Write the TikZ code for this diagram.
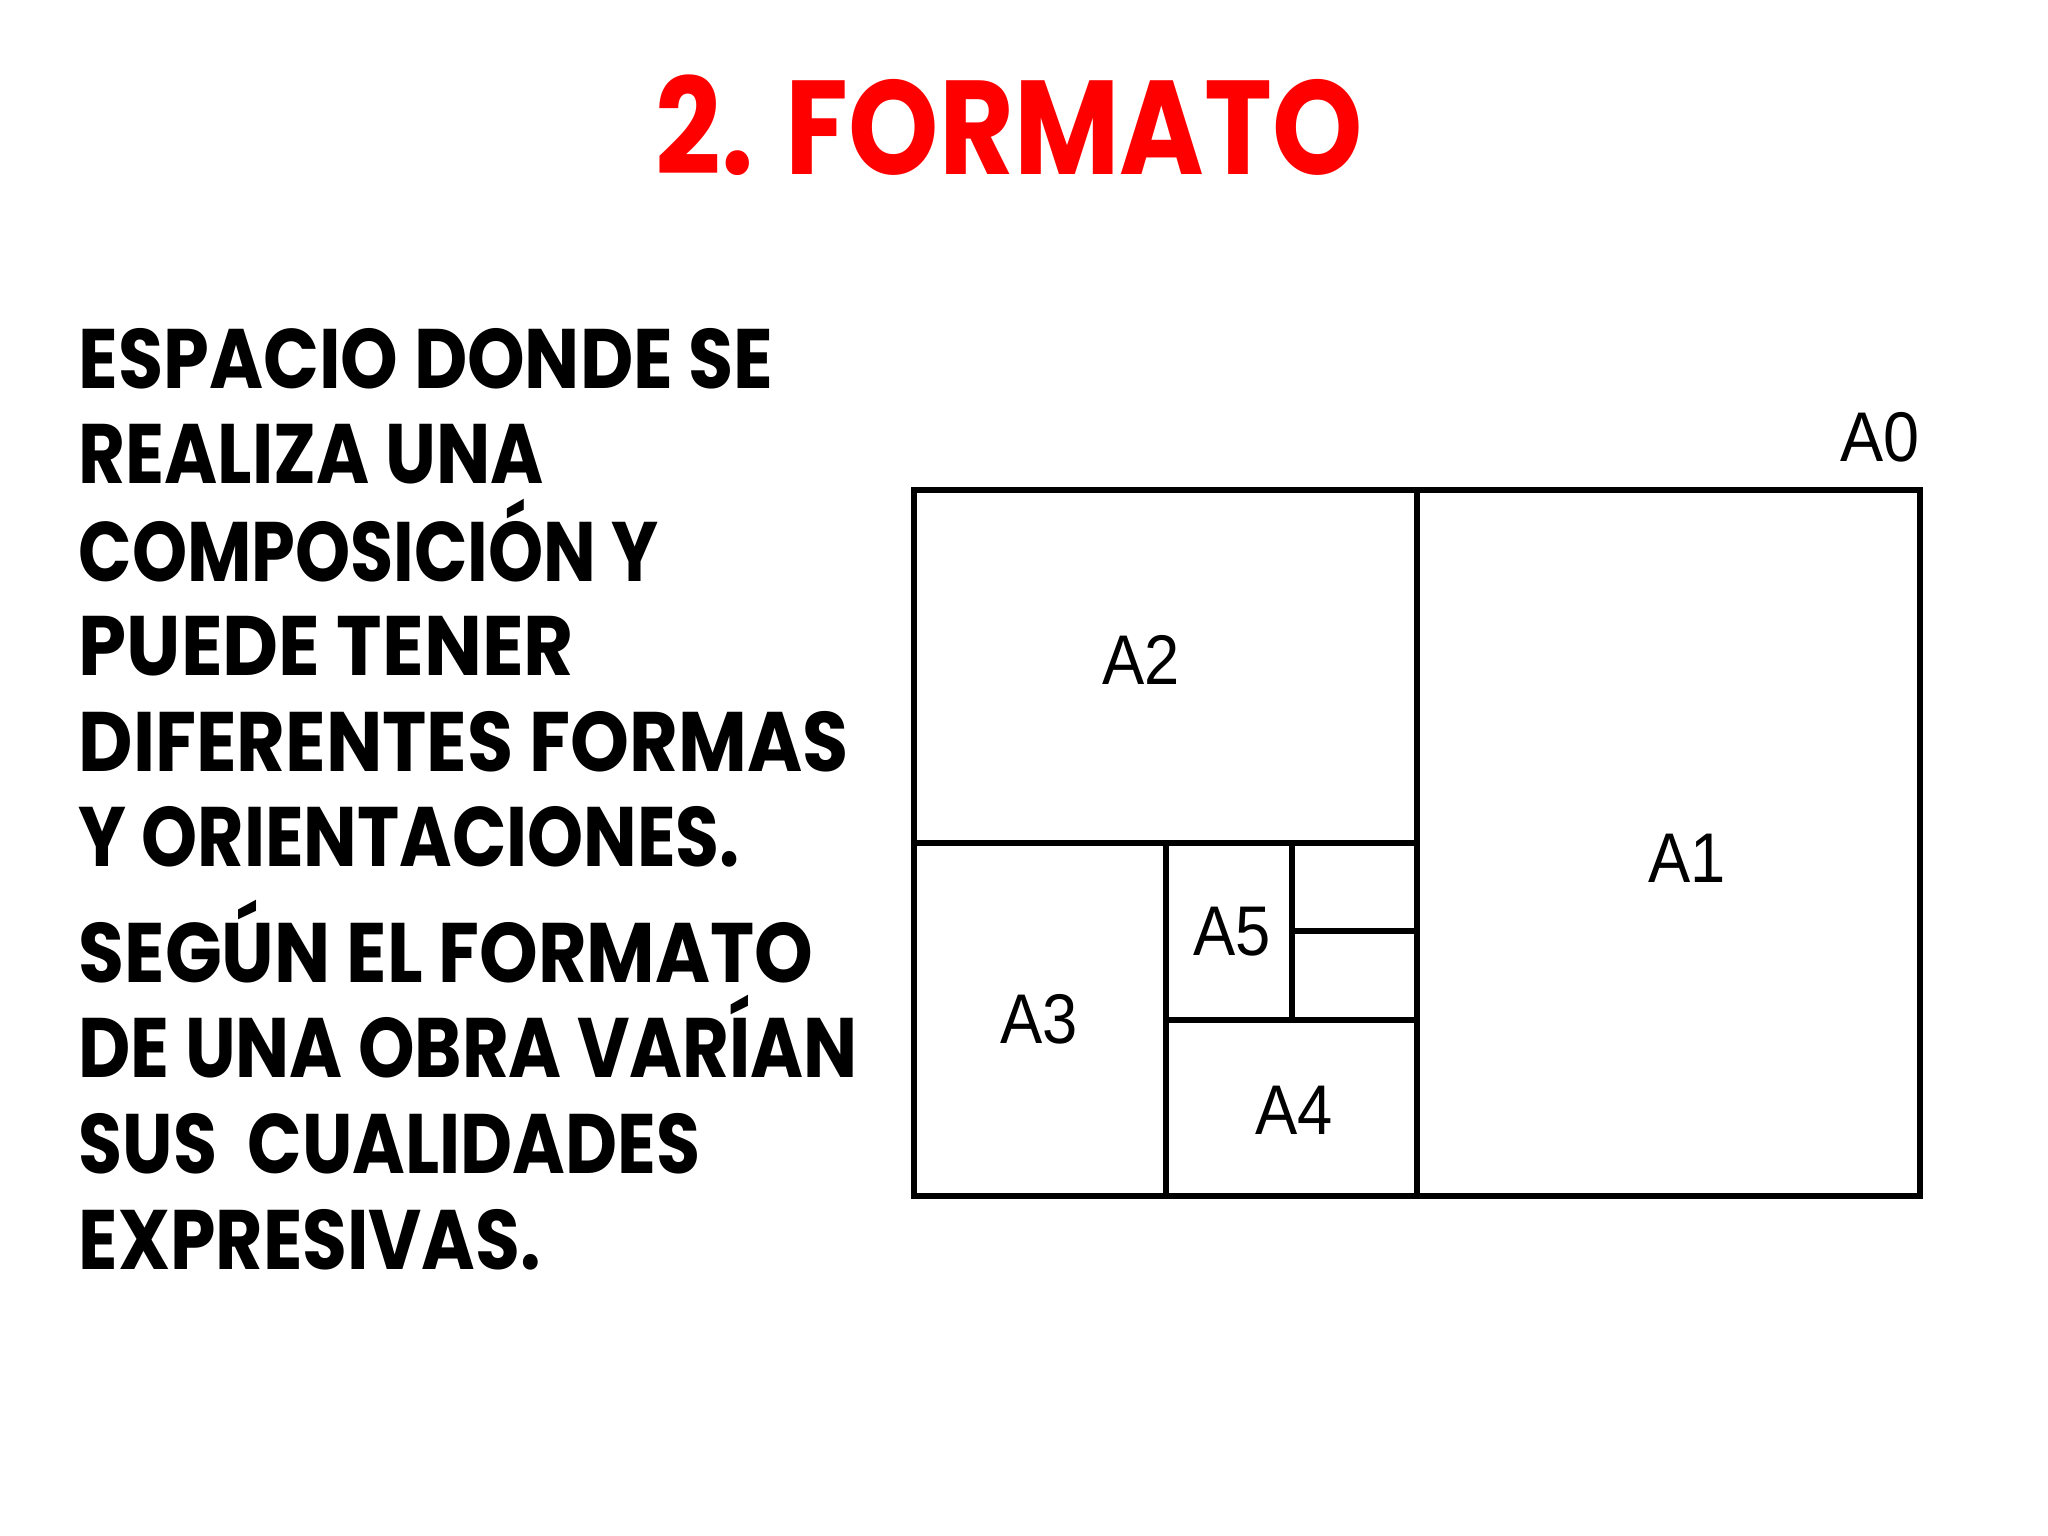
\documentclass[tikz,border=0pt]{standalone}
\usepackage{fontspec}
\setmainfont{Poppins}
\newfontfamily\labelfont{Liberation Sans}
\definecolor{titlered}{RGB}{255,0,0}
\newcommand{\sqz}[2]{\scalebox{#1}[1]{#2}}
\begin{document}
\begin{tikzpicture}[x=0.01cm,y=-0.01cm,
  frame/.style={line width=1.6pt,draw=black},
  sizelabel/.style={font=\labelfont\fontsize{20}{24}\selectfont,inner sep=0pt},
  bodyline/.style={anchor=base west,inner sep=0pt,font=\fontsize{24}{28}\selectfont\bfseries},
  titletext/.style={inner sep=0pt,text=titlered,font=\fontsize{38}{44}\selectfont\bfseries}]
\fill[white] (0,0) rectangle (2048,1536);
\useasboundingbox (0,0) rectangle (2048,1536);
% title
\node[titletext] (title) at (1009,125) {\sqz{0.86}{2. FORMATO}};
% body text
\node[bodyline] (l1) at (78,388) {\sqz{0.869}{ESPACIO DONDE SE}};
\node[bodyline] (l2) at (78,483) {\sqz{0.855}{REALIZA UNA}};
\node[bodyline] (l3) at (78,581) {\sqz{0.831}{COMPOSICIÓN Y}};
\node[bodyline] (l4) at (78,675) {\sqz{0.913}{PUEDE TENER}};
\node[bodyline] (l5) at (78,771) {\sqz{0.888}{DIFERENTES FORMAS}};
\node[bodyline] (l6) at (78,866) {\sqz{0.845}{Y ORIENTACIONES.}};
\node[bodyline] (l7) at (78,982) {\sqz{0.885}{SEGÚN EL FORMATO}};
\node[bodyline] (l8) at (78,1077) {\sqz{0.852}{DE UNA OBRA VARÍAN}};
\node[bodyline] (l9) at (78,1173) {\sqz{0.848}{SUS\ \ CUALIDADES}};
\node[bodyline] (l10) at (78,1269) {\sqz{0.863}{EXPRESIVAS.}};
% paper formats
\draw[frame] (914,490) rectangle (1920,1196);
\draw[frame] (1417,490) -- (1417,1196);
\draw[frame] (914,843) -- (1417,843);
\draw[frame] (1166,843) -- (1166,1196);
\draw[frame] (1166,1020) -- (1417,1020);
\draw[frame] (1292,843) -- (1292,1020);
\draw[frame] (1292,931) -- (1417,931);
% labels
\node[sizelabel,anchor=east] (a0) at (1920,437) {\sqz{0.92}{A0}};
\node[sizelabel] (a1) at (1687,858) {\sqz{0.9}{A1}};
\node[sizelabel] (a2) at (1141,660) {\sqz{0.9}{A2}};
\node[sizelabel] (a3) at (1039,1019) {\sqz{0.9}{A3}};
\node[sizelabel] (a4) at (1294,1110) {\sqz{0.9}{A4}};
\node[sizelabel] (a5) at (1232,932) {\sqz{0.9}{A5}};
\end{tikzpicture}
\end{document}
